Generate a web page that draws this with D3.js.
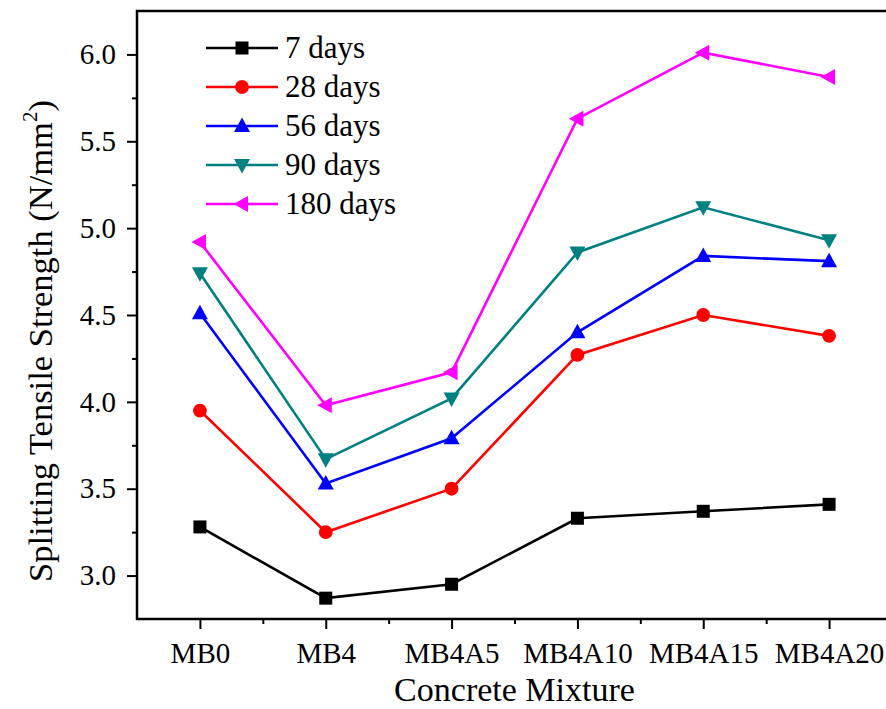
<!DOCTYPE html>
<html>
<head>
<meta charset="utf-8">
<script src="https://cdn.jsdelivr.net/npm/d3@7"></script>
<style>
  html, body { margin: 0; padding: 0; background: #fff; }
  svg { display: block; }
</style>
</head>
<body>
<svg id="chart" width="886" height="709"></svg>
<script>
// Concrete mixtures along the x axis
const mixtures = ["MB0", "MB4", "MB4A5", "MB4A10", "MB4A15", "MB4A20"];

// Splitting tensile strength (N/mm²) per curing age
const days7   = [3.28, 2.87, 2.95, 3.33, 3.37, 3.41];
const days28  = [3.95, 3.25, 3.50, 4.27, 4.50, 4.38];
const days56  = [4.51, 3.53, 3.79, 4.40, 4.84, 4.81];
const days90  = [4.74, 3.67, 4.02, 4.86, 5.12, 4.93];
const days180 = [4.92, 3.98, 4.17, 5.63, 6.01, 5.87];

const seriesNames = ["7 days", "28 days", "56 days", "90 days", "180 days"];
const yTicks = [3.0, 3.5, 4.0, 4.5, 5.0, 5.5, 6.0];

const series = [
  { name: seriesNames[0], values: days7,   color: "#000000", shape: "square" },
  { name: seriesNames[1], values: days28,  color: "#ff0000", shape: "circle" },
  { name: seriesNames[2], values: days56,  color: "#0000ff", shape: "up" },
  { name: seriesNames[3], values: days90,  color: "#008080", shape: "down" },
  { name: seriesNames[4], values: days180, color: "#ff00ff", shape: "left" }
];

const FONT = "'Liberation Serif', monospace";

const svg = d3.select("#chart");
const margin = { left: 137, right: 892, top: 11, bottom: 619 };

const x = d3.scaleLinear().domain([0.5, mixtures.length + 0.5]).range([margin.left, margin.right]);
const y = d3.scaleLinear().domain([2.75, 6.25]).range([margin.bottom, margin.top]);

// Marker path generators
function markerPath(shape) {
  switch (shape) {
    case "square": return "M-6.5,-6.5H6.5V6.5H-6.5Z";
    case "circle": return d3.symbol(d3.symbolCircle, 150)();
    case "up":     return "M0,-8.5L8,6L-8,6Z";
    case "down":   return "M0,8.5L8,-6L-8,-6Z";
    case "left":   return "M-8.5,0L6,-8L6,8Z";
  }
}

// Axes
const yMajor = d3.axisLeft(y).tickValues(yTicks).tickFormat(d3.format(".1f")).tickSize(10).tickPadding(11);
const yMinor = d3.axisLeft(y).tickValues(d3.range(3.25, 6.25, 0.5)).tickFormat("").tickSize(5);
const xMajor = d3.axisBottom(x).tickValues(d3.range(1, mixtures.length + 1)).tickFormat(i => mixtures[i - 1]).tickSize(10).tickPadding(13);
const xMinor = d3.axisBottom(x).tickValues(d3.range(1.5, mixtures.length + 0.6, 1)).tickFormat("").tickSize(5);

function styleAxis(g) {
  g.attr("font-family", null).attr("font-size", null);
  g.select(".domain").remove();
  g.selectAll(".tick line").attr("stroke", "#000").attr("stroke-width", 2);
  g.selectAll(".tick text")
    .style("font-family", FONT).style("font-size", "29px").attr("fill", "#000");
}

svg.append("g").attr("transform", `translate(${margin.left},0)`).call(yMajor).call(styleAxis);
svg.append("g").attr("transform", `translate(${margin.left},0)`).call(yMinor).call(styleAxis);
svg.append("g").attr("transform", `translate(0,${margin.bottom})`).call(xMajor).call(styleAxis);
svg.append("g").attr("transform", `translate(0,${margin.bottom})`).call(xMinor).call(styleAxis);

// Frame: left, top, bottom lines
svg.append("path")
  .attr("d", `M${margin.right},${margin.top}H${margin.left}V${margin.bottom}H${margin.right}V${margin.top}`)
  .attr("fill", "none").attr("stroke", "#000").attr("stroke-width", 2.5);

// Series lines and markers
const line = d3.line().x((d, i) => x(i + 1)).y(d => y(d));
series.forEach(s => {
  svg.append("path").datum(s.values)
    .attr("d", line).attr("fill", "none")
    .attr("stroke", s.color).attr("stroke-width", 2.6);
  svg.append("g").selectAll("path").data(s.values).join("path")
    .attr("d", markerPath(s.shape))
    .attr("transform", (d, i) => `translate(${x(i + 1)},${y(d)})`)
    .attr("fill", s.color);
});

// Legend
const legend = svg.append("g");
series.forEach((s, i) => {
  const ly = 48 + i * 39;
  legend.append("line").attr("x1", 206).attr("x2", 278).attr("y1", ly).attr("y2", ly)
    .attr("stroke", s.color).attr("stroke-width", 2.6);
  legend.append("path").attr("d", markerPath(s.shape)).attr("transform", `translate(242,${ly})`).attr("fill", s.color);
  legend.append("text").attr("x", 285).attr("y", ly + 9.5)
    .style("font-family", FONT).style("font-size", "31px").attr("fill", "#000")
    .text(s.name);
});

// Axis titles
svg.append("text").attr("x", (margin.left + margin.right) / 2).attr("y", 701)
  .style("font-family", FONT).style("font-size", "34px").attr("fill", "#000")
  .attr("text-anchor", "middle").text("Concrete Mixture");

const yTitle = svg.append("text")
  .attr("transform", "translate(52,341) rotate(-90)")
  .style("font-family", FONT).style("font-size", "34.5px").attr("fill", "#000")
  .attr("text-anchor", "middle");
yTitle.append("tspan").text("Splitting Tensile Strength (N/mm");
yTitle.append("tspan").style("font-size", "21px").attr("dy", -15).text("2");
yTitle.append("tspan").attr("dy", 15).text(")");
</script>
</body>
</html>
